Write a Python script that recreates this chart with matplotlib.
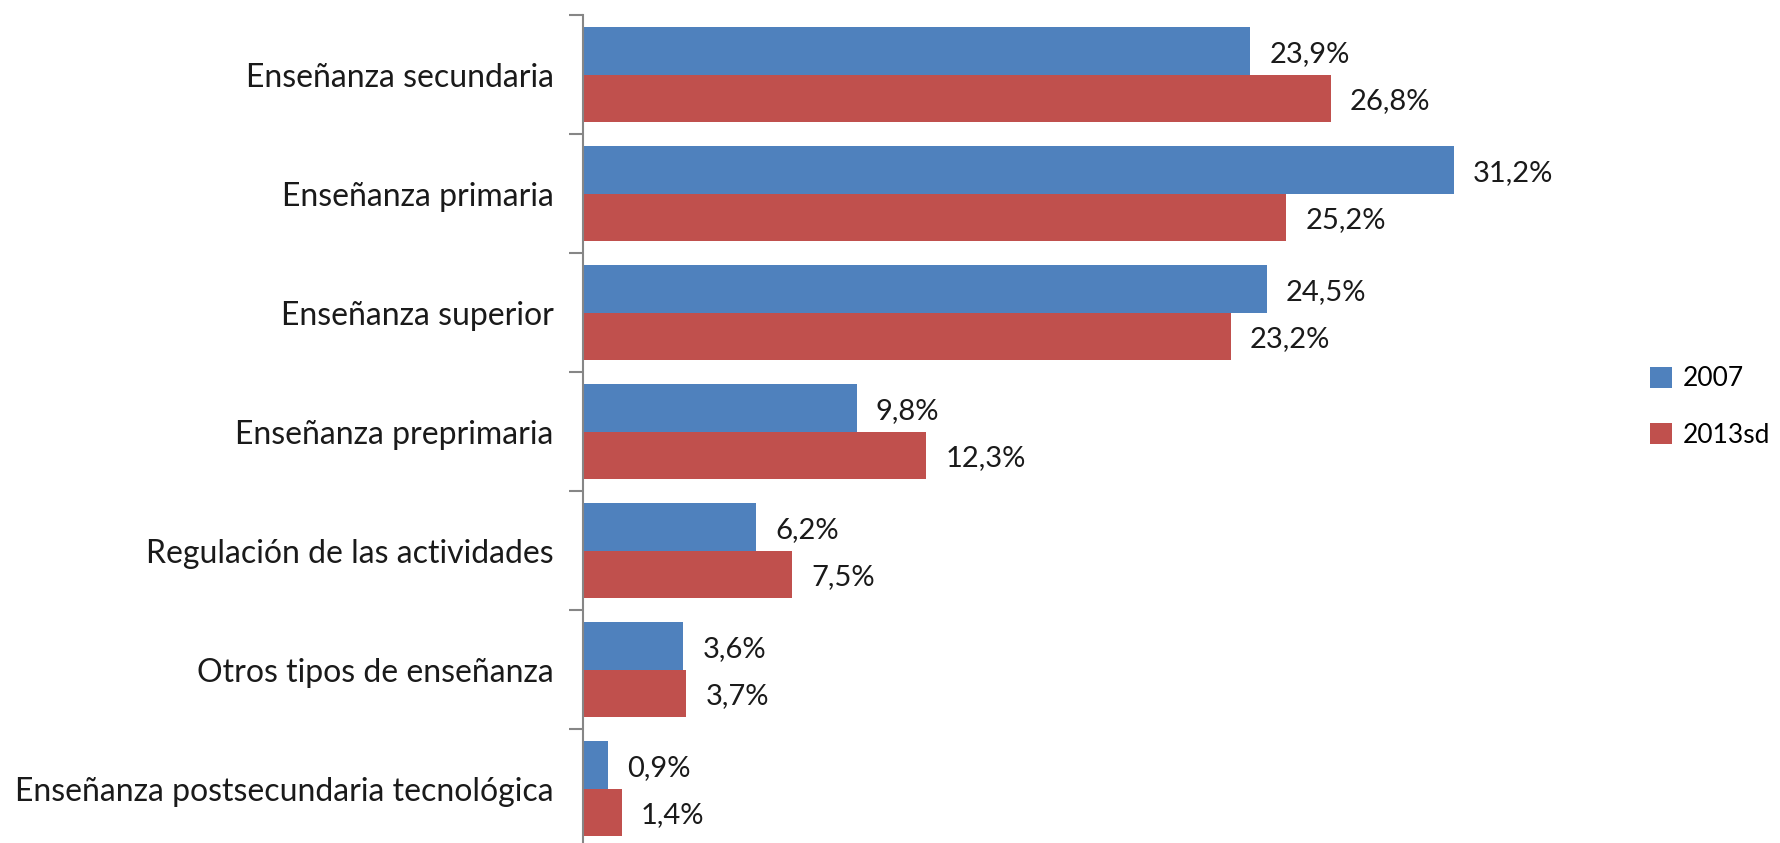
import matplotlib
matplotlib.use("Agg")
import matplotlib.pyplot as plt
import numpy as np
from matplotlib.ticker import FixedLocator

categories = ["Enseñanza secundaria", "Enseñanza primaria", "Enseñanza superior",
              "Enseñanza preprimaria", "Regulación de las actividades",
              "Otros tipos de enseñanza", "Enseñanza postsecundaria tecnológica"]
v2007 = [23.9, 31.2, 24.5, 9.8, 6.2, 3.6, 0.9]
v2013 = [26.8, 25.2, 23.2, 12.3, 7.5, 3.7, 1.4]
series_names = ["2007", "2013sd"]

blue = "#4F81BD"
red = "#C0504D"
font = ["Lato", "DejaVu Sans"]

fig = plt.figure(figsize=(17.8, 8.43), dpi=100)
ax = fig.add_axes([583/1780, -5/843, (1560-583)/1780, (848-15)/843])

y = np.arange(len(categories))
h = 0.4
b1 = ax.barh(y - h/2, v2007, height=h, color=blue, label=series_names[0])
b2 = ax.barh(y + h/2, v2013, height=h, color=red, label=series_names[1])

for bars, vals in ((b1, v2007), (b2, v2013)):
    for rect, v in zip(bars, vals):
        ax.annotate(f"{v:.1f}%".replace(".", ","),
                    (rect.get_width(), rect.get_y() + rect.get_height()/2),
                    xytext=(19, -3), textcoords="offset pixels",
                    ha="left", va="center", fontsize=21, family=font, color="#1a1a1a")

ax.set_xlim(0, 35)
ax.set_ylim(len(categories) - 0.5, -0.5)
ax.set_yticks(y)
ax.set_yticklabels(categories, family=font, fontsize=23, color="#1a1a1a")
ax.yaxis.set_minor_locator(FixedLocator(np.arange(-0.5, len(categories), 1.0)))
ax.tick_params(axis="y", which="major", length=0, pad=21)
ax.tick_params(axis="y", which="minor", length=10, width=1.5, color="#868686")
ax.set_xticks([])
for s in ("top", "right", "bottom"):
    ax.spines[s].set_visible(False)
ax.spines["left"].set_color("#868686")
ax.spines["left"].set_linewidth(1.5)

leg = fig.legend(handles=[b1, b2], labels=series_names, loc="center left",
                 bbox_to_anchor=(1650/1780, 1 - 407/843), frameon=False,
                 borderpad=0, borderaxespad=0,
                 prop={"family": font, "size": 19}, handlelength=0.85, handleheight=0.85,
                 handletextpad=0.4, labelspacing=1.2)

fig.savefig("out.png", dpi=100)
